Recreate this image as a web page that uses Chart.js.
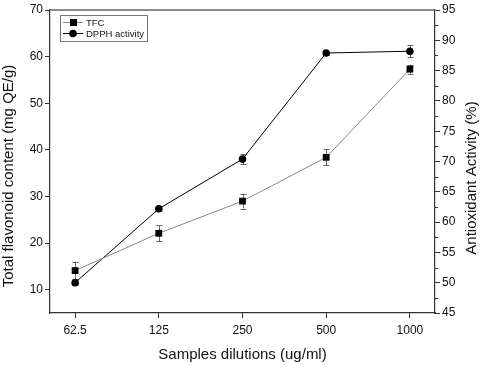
<!DOCTYPE html>
<html>
<head>
<meta charset="utf-8">
<script src="https://cdn.jsdelivr.net/npm/chart.js@4.4.1/dist/chart.umd.min.js"></script>
<style>
html,body{margin:0;padding:0;background:#fff;}
#wrap{width:484px;height:365px;position:relative;}
</style>
</head>
<body>
<div id="wrap"><canvas id="c" width="484" height="365"></canvas></div>
<script>
// ---- data ----
const categories = ["62.5", "125", "250", "500", "1000"];
const tfcValues = [14.1, 22.1, 29.0, 38.4, 57.3];
const tfcErrors = [1.9, 1.7, 1.6, 1.7, 1.0];
const dpphValues = [50.0, 62.2, 70.4, 87.9, 88.2];
const dpphErrors = [0.4, 0.4, 0.8, 0.4, 1.0];
const leftTicks = [10, 20, 30, 40, 50, 60, 70];
const rightTicks = [45, 50, 55, 60, 65, 70, 75, 80, 85, 90, 95];
const rightMinorTicks = [47.5, 52.5, 57.5, 62.5, 67.5, 72.5, 77.5, 82.5, 87.5, 92.5];
const xTitle = "Samples dilutions (ug/ml)";
const yLeftTitle = "Total flavonoid content (mg QE/g)";
const yRightTitle = "Antioxidant Activity (%)";
const seriesNames = ["TFC", "DPPH activity"];

const FONT = "'Liberation Sans', Arial, Helvetica, sans-serif";
const AXIS = '#333';

const errorBars = {
  id: 'errorBars',
  beforeDatasetsDraw(chart) {
    const ctx = chart.ctx;
    const xs = chart.scales.x;
    chart.data.datasets.forEach((ds) => {
      const ys = chart.scales[ds.yAxisID];
      ctx.save();
      ctx.strokeStyle = '#666';
      ctx.lineWidth = 1;
      ds.data.forEach((p, i) => {
        const e = ds.errors[i];
        const x = Math.round(xs.getPixelForValue(p.x)) + 0.5;
        const y1 = ys.getPixelForValue(p.y + e);
        const y2 = ys.getPixelForValue(p.y - e);
        ctx.beginPath();
        ctx.moveTo(x, y1); ctx.lineTo(x, y2);
        ctx.moveTo(x - 3, Math.round(y1) + 0.5); ctx.lineTo(x + 3, Math.round(y1) + 0.5);
        ctx.moveTo(x - 3, Math.round(y2) + 0.5); ctx.lineTo(x + 3, Math.round(y2) + 0.5);
        ctx.stroke();
      });
      ctx.restore();
    });
  }
};

const decor = {
  id: 'decor',
  afterDraw(chart) {
    const ctx = chart.ctx;
    const a = chart.chartArea;
    ctx.save();
    // top frame line
    ctx.strokeStyle = '#666';
    ctx.lineWidth = 1.5;
    ctx.beginPath();
    ctx.moveTo(a.left, a.top); ctx.lineTo(a.right, a.top);
    ctx.stroke();
    // minor ticks on right axis
    const yr = chart.scales.yR;
    ctx.strokeStyle = AXIS;
    ctx.lineWidth = 1;
    rightMinorTicks.forEach(v => {
      const y = Math.round(yr.getPixelForValue(v)) + 0.5;
      ctx.beginPath();
      ctx.moveTo(a.right, y); ctx.lineTo(a.right + 3, y);
      ctx.stroke();
    });
    // axis titles
    ctx.fillStyle = '#111';
    ctx.font = '15px ' + FONT;
    ctx.textAlign = 'center';
    ctx.textBaseline = 'middle';
    ctx.fillText(xTitle, (a.left + a.right) / 2, 355);
    ctx.save();
    ctx.translate(9, 176);
    ctx.rotate(-Math.PI / 2);
    ctx.fillText(yLeftTitle, 0, 0);
    ctx.restore();
    ctx.save();
    ctx.translate(472, 178);
    ctx.rotate(-Math.PI / 2);
    ctx.fillText(yRightTitle, 0, 0);
    ctx.restore();
    // legend
    const lx = 60.5, ly = 15.5, lw = 87, lh = 26;
    ctx.strokeStyle = '#777';
    ctx.lineWidth = 1;
    ctx.strokeRect(lx, ly, lw, lh);
    ctx.font = '9.5px ' + FONT;
    ctx.textAlign = 'left';
    const rows = [22.5, 33.5];
    chart.data.datasets.forEach((ds, i) => {
      const y = rows[i];
      ctx.strokeStyle = ds.borderColor;
      ctx.beginPath();
      ctx.moveTo(63, y); ctx.lineTo(83, y);
      ctx.stroke();
      ctx.fillStyle = '#000';
      if (ds.pointStyle === 'rect') {
        ctx.fillRect(70, y - 3.5, 7, 7);
      } else {
        ctx.beginPath();
        ctx.arc(73, y, 3.8, 0, Math.PI * 2);
        ctx.fill();
      }
      ctx.fillStyle = '#111';
      ctx.fillText(ds.label, 86, y + 0.5);
    });
    ctx.restore();
  }
};

const tfcData = categories.map((c, i) => ({ x: i, y: tfcValues[i] }));
const dpphData = categories.map((c, i) => ({ x: i, y: dpphValues[i] }));

new Chart(document.getElementById('c'), {
  type: 'line',
  data: {
    datasets: [
      {
        label: seriesNames[0], data: tfcData, errors: tfcErrors, yAxisID: 'yL',
        borderColor: '#888', borderWidth: 1, pointStyle: 'rect', pointRadius: 4.8,
        pointBackgroundColor: '#000', pointBorderColor: '#000', pointBorderWidth: 0, tension: 0
      },
      {
        label: seriesNames[1], data: dpphData, errors: dpphErrors, yAxisID: 'yR',
        borderColor: '#000', borderWidth: 1, pointStyle: 'circle', pointRadius: 3.8,
        pointBackgroundColor: '#000', pointBorderColor: '#000', pointBorderWidth: 0, tension: 0
      }
    ]
  },
  options: {
    responsive: false,
    animation: false,
    devicePixelRatio: 1,
    layout: { padding: { top: 10, left: 0, right: 0, bottom: 0 } },
    plugins: { legend: { display: false }, tooltip: { enabled: false } },
    scales: {
      x: {
        type: 'linear', min: -0.3, max: 4.3,
        afterBuildTicks: (s) => { s.ticks = categories.map((c, i) => ({ value: i })); },
        afterFit: (s) => { s.height = 52; },
        ticks: { callback: (v) => categories[v], color: '#111', font: { size: 12, family: FONT }, padding: 5, maxRotation: 0, autoSkip: false },
        grid: { drawOnChartArea: false, drawTicks: true, tickLength: 5, tickColor: AXIS },
        border: { color: AXIS, width: 1.2 }
      },
      yL: {
        type: 'linear', position: 'left', min: 5, max: 70,
        afterBuildTicks: (s) => { s.ticks = leftTicks.map(v => ({ value: v })); },
        afterFit: (s) => { s.width = 50; },
        ticks: { color: '#111', font: { size: 12, family: FONT }, padding: 2 },
        grid: { drawOnChartArea: false, drawTicks: true, tickLength: 5, tickColor: AXIS },
        border: { color: AXIS, width: 1.2 }
      },
      yR: {
        type: 'linear', position: 'right', min: 45, max: 95,
        afterBuildTicks: (s) => { s.ticks = rightTicks.map(v => ({ value: v })); },
        afterFit: (s) => { s.width = 49; },
        ticks: { color: '#111', font: { size: 12, family: FONT }, padding: 2 },
        grid: { drawOnChartArea: false, drawTicks: true, tickLength: 5, tickColor: AXIS },
        border: { color: AXIS, width: 1.2 }
      }
    }
  },
  plugins: [errorBars, decor]
});
</script>
</body>
</html>
